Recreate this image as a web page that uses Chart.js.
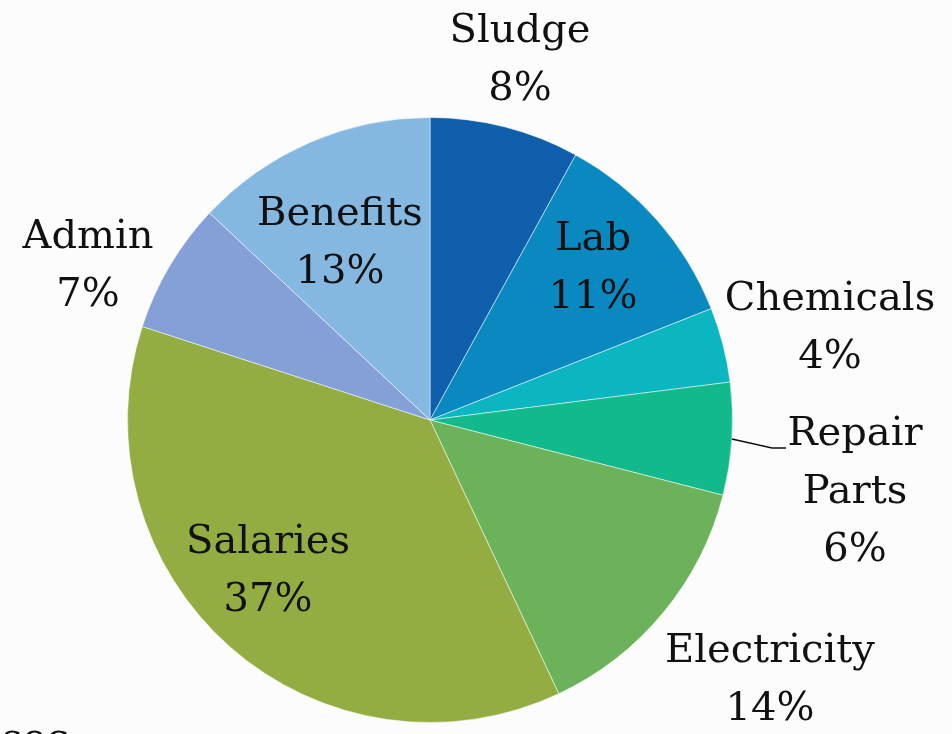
<!DOCTYPE html>
<html><head><meta charset="utf-8">
<script src="https://cdn.jsdelivr.net/npm/chart.js@4/dist/chart.umd.min.js"></script>
<style>
html,body{margin:0;padding:0;background:#fcfcfc;overflow:hidden}
#wrap{position:relative;width:952px;height:734px}
#foot{position:absolute;left:2px;top:714px;font:40px "DejaVu Serif";color:#111}
</style></head>
<body><div id="wrap"><canvas id="c" width="952" height="734"></canvas><div id="foot">soc</div></div>
<script>
const categories = ["Sludge","Lab","Chemicals","Repair Parts","Electricity","Salaries","Admin","Benefits"];
const values = [8, 11, 4, 6, 14, 37, 7, 13];
const colors = ["#0F5FAC","#0A89C1","#0BB5C1","#12B98B","#6BB25A","#94AD42","#84A0D6","#84B8E1"];
// label text lines and label anchor positions (canvas px)
const labelLines = [["Sludge","8%"],["Lab","11%"],["Chemicals","4%"],["Repair","Parts","6%"],["Electricity","14%"],["Salaries","37%"],["Admin","7%"],["Benefits","13%"]];
const labelPos = [[520,32],[593,240],[830,300],[855,435],[770,652],[268,543],[88,238],[340,215]];

const labelPlugin = {
  id:'labels',
  afterDatasetsDraw(chart){
    const ctx = chart.ctx;
    ctx.save();
    ctx.font = '40px "DejaVu Serif"';
    ctx.fillStyle = '#111';
    ctx.textAlign = 'center';
    ctx.textBaseline = 'middle';
    labelLines.forEach((lines,i)=>{
      const [x,y] = labelPos[i];
      lines.forEach((t,j)=>ctx.fillText(t, x, y + j*58));
    });
    // leader line for Repair Parts
    const arc = chart.getDatasetMeta(0).data[3];
    const mid = (arc.startAngle + arc.endAngle)/2;
    const sx = arc.x + Math.cos(mid)*arc.outerRadius;
    const sy = arc.y + Math.sin(mid)*arc.outerRadius;
    ctx.strokeStyle = '#111';
    ctx.lineWidth = 1.5;
    ctx.beginPath();
    ctx.moveTo(sx, sy);
    ctx.lineTo(772, 448);
    ctx.lineTo(786, 448);
    ctx.stroke();
    ctx.restore();
  }
};

new Chart(document.getElementById('c'), {
  type:'pie',
  data:{labels:categories, datasets:[{data:values, backgroundColor:colors, borderColor:'rgba(255,255,255,0.5)', borderWidth:1}]},
  options:{
    responsive:false, animation:false,
    layout:{padding:{top:117,bottom:11,left:127,right:219}},
    plugins:{legend:{display:false}, tooltip:{enabled:false}}
  },
  plugins:[labelPlugin]
});
</script></body></html>
